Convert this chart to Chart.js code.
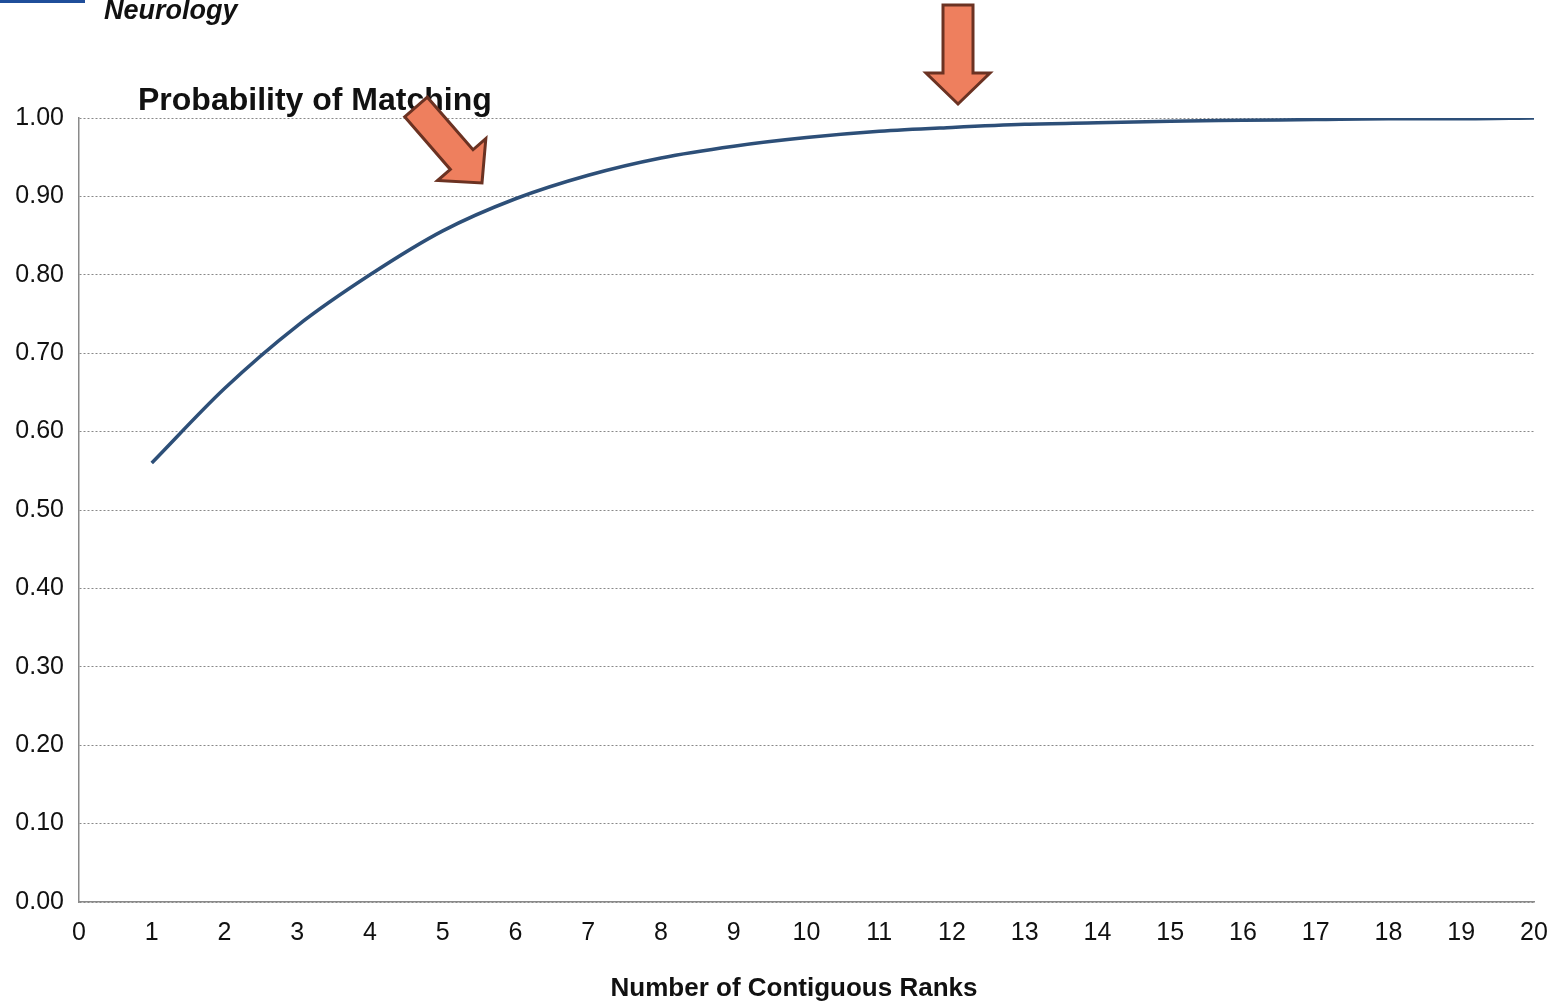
<!DOCTYPE html>
<html>
<head>
<meta charset="utf-8">
<script src="https://cdn.jsdelivr.net/npm/chart.js@4"></script>
<style>
html,body{margin:0;padding:0;background:#fff;}
#wrap{width:1552px;height:1003px;}
</style>
</head>
<body>
<div id="wrap"><canvas id="lineChart" width="1552" height="1003"></canvas></div>
<script>

// data
const ranks = [1,2,3,4,5,6,7,8,9,10,11,12,13,14,15,16,17,18,19,20]
const probability = [0.56,0.655,0.735,0.80,0.856,0.897,0.927,0.949,0.964,0.975,0.983,0.988,0.992,0.994,0.996,0.997,0.998,0.999,0.999,1.0]

const chartTitle = "Probability of Matching"
const xTitle = "Number of Contiguous Ranks"
const headerText = "Neurology"

const FONT = "'Liberation Sans', Arial, sans-serif"

/* arrow shape: from tail centre to tip */
function drawArrow(ctx, tx, ty, px, py){
const dx = px - tx, dy = py - ty
const len = Math.hypot(dx, dy)
const ux = dx/len, uy = dy/len
const nx = -uy, ny = ux
const shaftW = 15, headW = 32, headL = 31
const bx = px - ux*headL, by = py - uy*headL
const pts = [
[tx + nx*shaftW, ty + ny*shaftW],
[bx + nx*shaftW, by + ny*shaftW],
[bx + nx*headW, by + ny*headW],
[px, py],
[bx - nx*headW, by - ny*headW],
[bx - nx*shaftW, by - ny*shaftW],
[tx - nx*shaftW, ty - ny*shaftW]
]
ctx.beginPath()
pts.forEach((p,i)=> i ? ctx.lineTo(p[0],p[1]) : ctx.moveTo(p[0],p[1]))
ctx.closePath()
ctx.fillStyle = "#EE7F5E"
ctx.fill()
ctx.lineWidth = 3
ctx.lineJoin = "miter"
ctx.strokeStyle = "#6B3222"
ctx.stroke()
}

const decorations = {
id:"decorations",
beforeDraw(chart){
const ctx = chart.ctx
ctx.save()
ctx.fillStyle = "#fff"
ctx.fillRect(0,0,chart.width,chart.height)
ctx.restore()
},
afterDraw(chart){
const ctx = chart.ctx
ctx.save()
// blue bar top left
ctx.fillStyle = "#1F4E9A"
ctx.fillRect(0,0,85,3)
// header text
ctx.fillStyle = "#111"
ctx.font = "italic bold 27px " + FONT
ctx.textBaseline = "alphabetic"
ctx.fillText(headerText, 104, 19)
// chart title
ctx.font = "bold 32px " + FONT
ctx.fillText(chartTitle, 138, 110)
// x axis title (sits a bit left of the plot centre in the original)
ctx.font = "bold 26px " + FONT
ctx.textAlign = "center"
ctx.fillText(xTitle, 794, 996)
ctx.textAlign = "left"
// arrows
drawArrow(ctx, 416, 107, 482, 183)
drawArrow(ctx, 958, 5, 958, 104)
ctx.restore()
}
}

const ctx = document.getElementById("lineChart")

new Chart(ctx,{
type:"line",
data:{
datasets:[{
data: ranks.map((r,i)=>({x:r, y:probability[i]})),
borderColor:"#2D4F78",
borderWidth:3.5,
pointRadius:0,
fill:false,
cubicInterpolationMode:"monotone"
}]
},
options:{
responsive:false,
devicePixelRatio:1,
animation:false,
layout:{padding:{top:118,left:0,right:18,bottom:0}},
plugins:{legend:{display:false},tooltip:{enabled:false}},
scales:{
x:{
type:"linear",
min:0,max:20,
afterFit(s){ s.height = 101; s.paddingLeft = 0; s.paddingRight = 0 },
ticks:{stepSize:1,color:"#111",font:{family:FONT,size:25},padding:16,maxRotation:0,autoSkip:false},
grid:{display:false,drawTicks:false},
border:{display:true,color:"#8a8a8a",width:1.5}
},
y:{
min:0,max:1,
afterFit(s){ s.width = 79 },
ticks:{stepSize:0.1,color:"#111",font:{family:FONT,size:25},padding:15,callback:v=>v.toFixed(2)},
grid:{color:"#888",lineWidth:1,drawTicks:false},
border:{display:true,color:"#8a8a8a",width:1.5,dash:[2,2]}
}
}
},
plugins:[decorations]
})

</script>
</body>
</html>
